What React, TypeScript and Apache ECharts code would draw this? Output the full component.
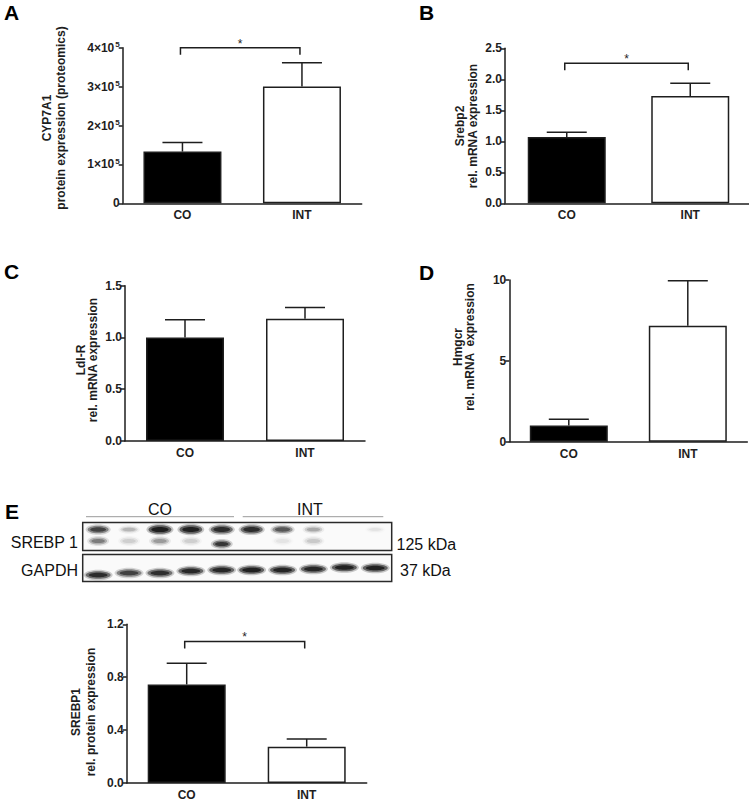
import React, { useEffect, useRef } from "react";
import * as echarts from "echarts";

const FONT = "Arial, 'Liberation Sans', Helvetica, sans-serif";
const INK = "#1e1e1e";

// ---- data ----
const categories = ["CO", "INT"];
const cyp7a1Mean = [1.33e5, 3.0e5];
const cyp7a1Sem = [0.23e5, 0.61e5];
const cyp7a1Sig = 4.0e5;
const srebp2Mean = [1.07, 1.73];
const srebp2Sem = [0.075, 0.205];
const srebp2Sig = 2.26;
const ldlrMean = [1.0, 1.18];
const ldlrSem = [0.17, 0.11];
const hmgcrMean = [1.0, 7.17];
const hmgcrSem = [0.39, 2.79];
const srebp1Mean = [0.745, 0.275];
const srebp1Sem = [0.16, 0.058];
const srebp1Sig = 1.07;

// western blot lane intensities (0..1), 5 CO lanes then 5 INT lanes
const blotLanes = ["CO", "CO", "CO", "CO", "CO", "INT", "INT", "INT", "INT", "INT"];
const srebp1Upper = [0.72, 0.2, 1.0, 0.97, 0.88, 0.88, 0.6, 0.25, 0.0, 0.06];
const srebp1Lower = [0.42, 0.12, 0.3, 0.12, 0.8, 0.0, 0.06, 0.14, 0.0, 0.0];
const gapdhBand = [0.88, 0.72, 0.85, 0.92, 0.92, 0.98, 0.95, 0.92, 0.98, 0.96];

export default function App() {
  const ref = useRef<HTMLDivElement>(null);

  useEffect(() => {
    if (!ref.current) return;
    const chart = echarts.init(ref.current, null, { renderer: "svg" });

    const panels = [
      {
        mean: cyp7a1Mean, sem: cyp7a1Sem, sig: cyp7a1Sig,
        grid: { left: 122.7, top: 47.7, width: 239, height: 155.6 },
        max: 4e5, interval: 1e5,
        fmt: (v: number) => (v === 0 ? "0" : `{b|${Math.round(v / 1e5)}×10}{s|5}`),
      },
      {
        mean: srebp2Mean, sem: srebp2Sem, sig: srebp2Sig,
        grid: { left: 505, top: 48.3, width: 247, height: 155 },
        max: 2.5, interval: 0.5,
        fmt: (v: number) => v.toFixed(1),
      },
      {
        mean: ldlrMean, sem: ldlrSem, sig: null,
        grid: { left: 125, top: 285.7, width: 240, height: 155.3 },
        max: 1.5, interval: 0.5,
        fmt: (v: number) => v.toFixed(1),
      },
      {
        mean: hmgcrMean, sem: hmgcrSem, sig: null,
        grid: { left: 509.3, top: 280, width: 238, height: 161.7 },
        max: 10, interval: 5,
        fmt: (v: number) => String(v),
      },
      {
        mean: srebp1Mean, sem: srebp1Sem, sig: srebp1Sig,
        grid: { left: 126.7, top: 624.3, width: 240, height: 158.7 },
        max: 1.2, interval: 0.4,
        fmt: (v: number) => v.toFixed(1),
      },
    ];

    const grids: any[] = [];
    const xAxes: any[] = [];
    const yAxes: any[] = [];
    const series: any[] = [];

    panels.forEach((p, i) => {
      grids.push({ ...p.grid, outerBoundsMode: "none", containLabel: false });
      xAxes.push({
        type: "category",
        gridIndex: i,
        data: categories,
        axisLine: { show: true, lineStyle: { color: INK, width: 1.5 } },
        axisTick: { show: false },
        axisLabel: { color: INK, fontFamily: FONT, fontWeight: "bold", fontSize: 12, margin: 6 },
        splitLine: { show: false },
      });
      yAxes.push({
        type: "value",
        gridIndex: i,
        min: 0,
        max: p.max,
        interval: p.interval,
        axisLine: { show: true, lineStyle: { color: INK, width: 1.5 } },
        axisTick: { show: true, length: 4, lineStyle: { color: INK, width: 1.5 } },
        axisLabel: {
          color: INK, fontFamily: FONT, fontWeight: "bold", fontSize: 12, margin: 3, formatter: p.fmt,
          rich: {
            b: { color: INK, fontFamily: FONT, fontWeight: "bold", fontSize: 12, lineHeight: 14 },
            s: { color: INK, fontFamily: FONT, fontSize: 8, lineHeight: 9, verticalAlign: "top", padding: [0, 0, 0, 1] },
          },
        },
        splitLine: { show: false },
      });
      series.push({
        type: "bar",
        xAxisIndex: i,
        yAxisIndex: i,
        barWidth: 78,
        data: p.mean.map((m, k) => ({
          value: m,
          itemStyle: {
            color: k === 0 ? "#000" : "#fff",
            borderColor: INK,
            borderWidth: 1.5,
          },
        })),
        z: 2,
      });
      series.push({
        type: "custom",
        xAxisIndex: i,
        yAxisIndex: i,
        clip: false,
        z: 3,
        encode: { x: 0, y: 1 },
        data: p.mean.map((m, k) => [k, m, p.sem[k]]),
        renderItem: (params: any, api: any) => {
          const x = api.value(0);
          const m = api.value(1);
          const e = api.value(2);
          const p0 = api.coord([x, m]);
          const p1 = api.coord([x, m + e]);
          return {
            type: "group",
            children: [
              { type: "line", shape: { x1: p0[0], y1: p0[1], x2: p1[0], y2: p1[1] }, style: { stroke: INK, lineWidth: 1.5 } },
              { type: "line", shape: { x1: p1[0] - 20, y1: p1[1], x2: p1[0] + 20, y2: p1[1] }, style: { stroke: INK, lineWidth: 1.5 } },
            ],
          };
        },
      });
      if (p.sig !== null) {
        series.push({
          type: "custom",
          xAxisIndex: i,
          yAxisIndex: i,
          clip: false,
          z: 4,
          encode: { x: 0, y: 2 },
          data: [[0, 1, p.sig]],
          renderItem: (params: any, api: any) => {
            const lvl = api.value(2);
            const a = api.coord([api.value(0), lvl]);
            const b = api.coord([api.value(1), lvl]);
            const ax = a[0] - 2;
            const bx = b[0] - 2;
            return {
              type: "group",
              children: [
                {
                  type: "polyline",
                  shape: { points: [[ax, a[1] + 7], [ax, a[1]], [bx, b[1]], [bx, b[1] + 7]] },
                  style: { stroke: INK, lineWidth: 1.5, fill: null },
                },
                {
                  type: "text",
                  x: (ax + bx) / 2,
                  y: a[1] - 4,
                  style: { text: "*", fontSize: 12, fontFamily: FONT, fill: INK, align: "center", verticalAlign: "middle" },
                },
              ],
            };
          },
        });
      }
    });

    const graphic: any[] = [];
    // panel letters
    const letters: [string, number, number][] = [
      ["A", 11.5, 12.5], ["B", 426.5, 12.5], ["C", 11.5, 271], ["D", 426.5, 272], ["E", 12, 511],
    ];
    letters.forEach(([t, x, y]) =>
      graphic.push({
        type: "text", x, y,
        style: { text: t, font: `bold 21px ${FONT}`, fill: "#000", align: "center", verticalAlign: "middle" },
      })
    );
    // axis titles
    const titles: [string, number, number, number][] = [
      ["CYP7A1\nprotein expression (proteomics)", 54, 118, 14],
      ["Srebp2\nrel. mRNA expression", 466, 126, 13],
      ["Ldl-R\nrel. mRNA expression", 87, 360, 12.5],
      ["Hmgcr\nrel. mRNA  expression", 464, 347, 12.5],
      ["SREBP1\nrel. protein expression", 83.5, 712, 15],
    ];
    titles.forEach(([t, x, y, lh]) =>
      graphic.push({
        type: "text", x, y, rotation: Math.PI / 2,
        style: {
          text: t, fontFamily: FONT, fontWeight: "bold", fontSize: 12, lineHeight: lh,
          fill: INK, align: "center", verticalAlign: "middle",
        },
      })
    );

    // western blot
    const boxL = 82.7, boxW = 309;
    const srebpTop = 522.5, srebpH = 28;
    const gapTop = 554.5, gapH = 27;
    graphic.push(
      { type: "rect", shape: { x: boxL, y: srebpTop, width: boxW, height: srebpH }, style: { fill: "#fafafa", stroke: "#2a2a2a", lineWidth: 1.5 }, z: 1 },
      { type: "rect", shape: { x: boxL, y: gapTop, width: boxW, height: gapH }, style: { fill: "#fafafa", stroke: "#2a2a2a", lineWidth: 1.5 }, z: 1 },
      { type: "line", shape: { x1: 86, y1: 516.7, x2: 234, y2: 516.7 }, style: { stroke: "#9a9a9a", lineWidth: 1 } },
      { type: "line", shape: { x1: 242.7, y1: 516.7, x2: 383.3, y2: 516.7 }, style: { stroke: "#9a9a9a", lineWidth: 1 } },
      { type: "text", x: 160, y: 509, style: { text: "CO", font: `16px ${FONT}`, fill: "#111", align: "center", verticalAlign: "middle" } },
      { type: "text", x: 310, y: 509, style: { text: "INT", font: `16px ${FONT}`, fill: "#111", align: "center", verticalAlign: "middle" } },
      { type: "text", x: 78, y: 542, style: { text: "SREBP 1", font: `16px ${FONT}`, fill: "#111", align: "right", verticalAlign: "middle" } },
      { type: "text", x: 78, y: 570, style: { text: "GAPDH", font: `16px ${FONT}`, fill: "#111", align: "right", verticalAlign: "middle" } },
      { type: "text", x: 396.5, y: 544, style: { text: "125 kDa", font: `16px ${FONT}`, fill: "#111", align: "left", verticalAlign: "middle" } },
      { type: "text", x: 400, y: 570, style: { text: "37 kDa", font: `16px ${FONT}`, fill: "#111", align: "left", verticalAlign: "middle" } }
    );
    // a band = faint halo + solid core
    const band = (cx: number, cy: number, rx: number, ry: number, a: number) => {
      if (a <= 0.01) return;
      graphic.push({
        type: "ellipse", z: 2,
        shape: { cx, cy, rx: rx + 2, ry: ry + 1.5 },
        style: { fill: `rgba(10,10,10,${a * 0.22})` },
      });
      graphic.push({
        type: "ellipse", z: 3,
        shape: { cx, cy, rx, ry },
        style: { fill: `rgba(10,10,10,${a * 0.55})` },
      });
      graphic.push({
        type: "ellipse", z: 4,
        shape: { cx, cy, rx: rx * 0.75, ry: ry * 0.6 },
        style: { fill: `rgba(10,10,10,${a * 0.75})` },
      });
    };
    const laneStep = boxW / blotLanes.length;
    const gapY = [575, 573, 573, 571, 570, 570, 570, 569, 567.5, 568];
    blotLanes.forEach((_, i) => {
      const cx = boxL + laneStep / 2 + i * laneStep + (i < 5 ? 0 : -1);
      const a = srebp1Upper[i];
      band(cx, 529.5, 8 + a * 3.5, 2.5 + a * 1.8, a);
      band(cx, i === 4 ? 544 : 541, 9, 3.5, srebp1Lower[i]);
      band(cx, gapY[i], 12.5, 3.8, gapdhBand[i]);
    });

    chart.setOption({
      animation: false,
      backgroundColor: "#fff",
      grid: grids,
      xAxis: xAxes,
      yAxis: yAxes,
      series,
      graphic,
    });
    return () => chart.dispose();
  }, []);

  return (
    <div
      ref={ref}
      style={{ position: "fixed", left: 0, top: 0, width: 749, height: 802, background: "#fff" }}
    />
  );
}
